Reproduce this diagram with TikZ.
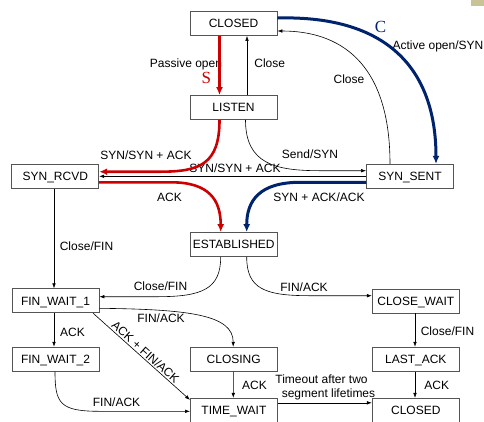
\documentclass[tikz,border=0pt]{standalone}
\usepackage{fontspec}
\setmainfont{Liberation Sans}
\newfontfamily\letterfont{Liberation Serif}
\usetikzlibrary{arrows.meta,calc}
\definecolor{synred}{RGB}{204,0,0}
\definecolor{synblue}{RGB}{0,35,110}
\definecolor{boxgray}{RGB}{85,85,85}
\definecolor{cornertan}{RGB}{200,196,150}

\begin{document}
\begin{tikzpicture}[x=1pt,y=-1pt,
  state/.style={draw=boxgray, line width=0.8pt, minimum width=87pt, minimum height=24pt,
    inner sep=0pt, text height=8.6pt, text depth=0pt, font=\fontsize{12}{14}\selectfont},
  lbl/.style={inner sep=0pt, text height=8.6pt, text depth=0pt, font=\fontsize{12}{14}\selectfont},
  bigletter/.style={inner sep=0pt, font=\letterfont\fontsize{17}{17}\selectfont},
  thinarrow/.style={line width=0.6pt, -{Latex[length=5pt,width=3.6pt]}},
  redpath/.style={draw=synred, line width=2.6pt, -{Latex[length=8pt,width=7pt]}},
  bluepath/.style={draw=synblue, line width=3pt, -{Latex[length=8pt,width=7pt]}},
]
\useasboundingbox (0,0) rectangle (484,421);
\fill[cornertan] (471,0) rectangle (484,6);

% states
\node[state] (closedT)   at (233.5,23.5)  {CLOSED};
\node[state] (listen)    at (233.5,107.5) {LISTEN};
\node[state] (synrcvd)   at (55.3,176.3)  {SYN\_RCVD};
\node[state] (synsent)   at (410,176.3)   {SYN\_SENT};
\node[state] (estab)     at (233.7,244.5) {ESTABLISHED};
\node[state] (fw1)       at (55.5,300.8)  {FIN\_WAIT\_1};
\node[state] (closewait) at (415.8,301)   {CLOSE\_WAIT};
\node[state] (fw2)       at (55.5,359.2)  {FIN\_WAIT\_2};
\node[state] (closing)   at (233.7,359.2) {CLOSING};
\node[state] (lastack)   at (415.8,359.2) {LAST\_ACK};
\node[state] (timewait)  at (233.9,410.3) {TIME\_WAIT};
\node[state] (closedB)   at (415.8,410.3) {CLOSED};

% transition labels
\node[lbl] (lPassive)  at (186,63)      {Passive open};
\node[bigletter, text=synred] (lS) at (206.3,78.3) {S};
\node[lbl] (lClose1)   at (269.7,63.3)  {Close};
\node[bigletter, text=synblue] (lC) at (380.5,27) {C};
\node[lbl] (lActive)   at (438,45)      {Active open/SYN};
\node[lbl] (lClose2)   at (349,78.7)    {Close};
\node[lbl] (lSynA)     at (146,155)     {SYN/SYN + ACK};
\node[lbl] (lSynB)     at (235,168)     {SYN/SYN + ACK};
\node[lbl] (lSend)     at (310,154.3)   {Send/SYN};
\node[lbl] (lAck1)     at (169.5,196.7) {ACK};
\node[lbl] (lSynAck)   at (319,196.7)   {SYN + ACK/ACK};
\node[lbl] (lCloseFin1) at (86.5,246)   {Close/FIN};
\node[lbl] (lCloseFin2) at (160.5,286)  {Close/FIN};
\node[lbl] (lFinAck1)  at (304,286.7)   {FIN/ACK};
\node[lbl] (lAck2)     at (72.5,331.7)  {ACK};
\node[lbl] (lFinAck2)  at (161,318)     {FIN/ACK};
\node[lbl] (lFinAck3)  at (116.5,401.7) {FIN/ACK};
\node[lbl] (lAck3)     at (254.5,385)   {ACK};
\node[lbl] (lTimeout1) at (321.5,379)   {Timeout after two};
\node[lbl] (lTimeout2) at (328.5,393)   {segment lifetimes};
\node[lbl] (lCloseFin3) at (447.5,330.7) {Close/FIN};
\node[lbl] (lAck4)     at (436.7,385)   {ACK};

% opening handshake, server side (red)
\draw[redpath] ($(closedT.south)+(-14,0)$) -- ($(listen.north)+(-14,0)$);
\draw[redpath] ($(listen.south)+(-14,0)$) .. controls +(0,44) and +(40,0) ..
  ($(synrcvd.east)+(61,-4.6)$) -- ($(synrcvd.east)+(0,-4.6)$);
\draw[redpath] ($(synrcvd.east)+(0,6)$) -- ($(synrcvd.east)+(72,6)$)
  .. controls +(38,0) and +(0,-32) .. ($(estab.north)+(-13,0)$);

% opening handshake, client side (blue)
\draw[bluepath] ($(closedT.east)+(0,-5.5)$) .. controls +(115,-3) and +(0,-90) ..
  ($(synsent.north)+(26,0)$);
\draw[bluepath] ($(synsent.west)+(0,6)$) -- ($(synsent.west)+(-66,6)$)
  .. controls +(-40,0) and +(0,-32) .. ($(estab.north)+(13,0)$);

% other transitions
\draw[thinarrow] ($(listen.north)+(13.5,0)$) -- ($(closedT.south)+(13.5,0)$);
\draw[thinarrow] ($(synsent.north)+(-20,0)$) .. controls +(0,-104) and +(60,0) ..
  ($(closedT.east)+(0,7.5)$);
\draw[thinarrow] (synsent.west) -- (synrcvd.east);
\draw[thinarrow] ($(listen.south)+(12,0)$) .. controls +(0,44) and +(-45,0) ..
  ($(synsent.west)+(-46,-5.6)$) -- ($(synsent.west)+(0,-5.6)$);
\draw[thinarrow] ($(synrcvd.south)+(-1.3,0)$) -- ($(fw1.north)+(-1.5,0)$);
\draw[thinarrow] ($(estab.south)+(-13,0)$) .. controls +(0,32) and +(45,0) ..
  ($(fw1.east)+(58,-4.1)$) -- ($(fw1.east)+(0,-4.1)$);
\draw[thinarrow] ($(estab.south)+(13,0)$) .. controls +(0,32) and +(-45,0) ..
  ($(closewait.west)+(-62,-5.3)$) -- ($(closewait.west)+(0,-5.3)$);
\draw[thinarrow] ($(fw1.south)+(-1.5,0)$) -- ($(fw2.north)+(-1.5,0)$);
\draw[thinarrow] ($(fw1.east)+(0,7.5)$) .. controls +(90,1) and +(0,-32) ..
  ($(closing.north)+(-0.5,0)$);
\draw[thinarrow] ($(fw1.south east)+(-6.3,0)$) -- node[lbl, sloped, above=1.5pt] (lAckFin) {ACK + FIN/ACK}
  ($(timewait.north west)+(0,2)$);
\draw[thinarrow] ($(fw2.south)+(-0.5,0)$) .. controls +(0,32) and +(-40,0) ..
  ($(timewait.west)+(-90,1)$) -- ($(timewait.west)+(0,1)$);
\draw[thinarrow] ($(closing.south)+(-0.4,0)$) -- ($(timewait.north)+(-0.6,0)$);
\draw[thinarrow] ($(timewait.east)+(0,-7.5)$) -- ($(closedB.west)+(0,-7.5)$);
\draw[thinarrow] ($(closewait.south)+(-0.8,0)$) -- ($(lastack.north)+(-0.8,0)$);
\draw[thinarrow] ($(lastack.south)+(-0.8,0)$) -- ($(closedB.north)+(-0.8,0)$);
\end{tikzpicture}
\end{document}
